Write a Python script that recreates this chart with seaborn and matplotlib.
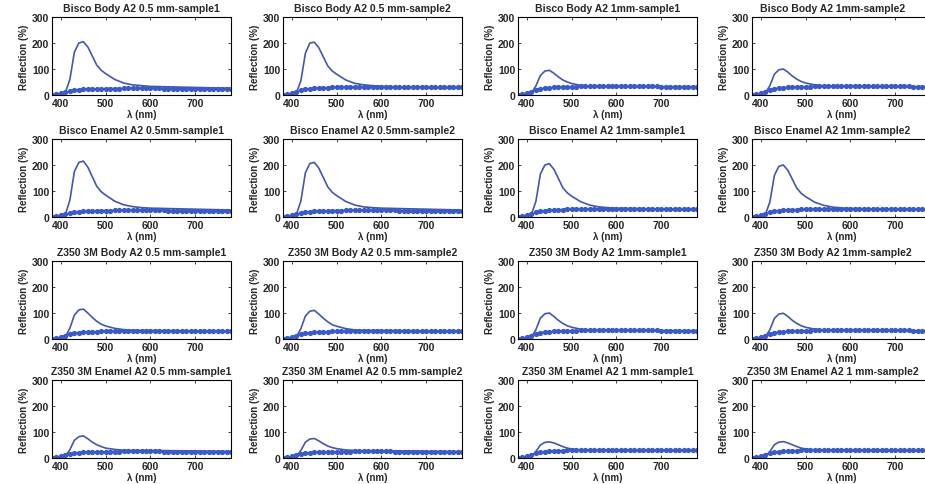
import matplotlib
matplotlib.use("Agg")
import matplotlib.pyplot as plt
import seaborn as sns

sns.set_style("ticks")
plt.rcParams['font.family'] = ['Liberation Sans', 'DejaVu Sans']
plt.rcParams['font.weight'] = 'bold'

# panel titles, row by row
titles = [
    "Bisco Body A2 0.5 mm-sample1", "Bisco Body A2 0.5 mm-sample2",
    "Bisco Body A2 1mm-sample1", "Bisco Body A2 1mm-sample2",
    "Bisco Enamel A2 0.5mm-sample1", "Bisco Enamel A2 0.5mm-sample2",
    "Bisco Enamel A2 1mm-sample1", "Bisco Enamel A2 1mm-sample2",
    "Z350 3M Body A2 0.5 mm-sample1", "Z350 3M Body A2 0.5 mm-sample2",
    "Z350 3M Body A2 1mm-sample1", "Z350 3M Body A2 1mm-sample2",
    "Z350 3M Enamel A2 0.5 mm-sample1", "Z350 3M Enamel A2 0.5 mm-sample2",
    "Z350 3M Enamel A2 1 mm-sample1", "Z350 3M Enamel A2 1 mm-sample2",
]

# wavelengths (nm) for the solid curve
wl_solid = [380, 400, 410, 420, 430, 440, 450, 460, 470, 480, 490, 500,
            520, 540, 560, 580, 600, 650, 700, 750, 780]

# wavelengths (nm) for the marker curve, 10 nm step
wl_mark = [380, 390, 400, 410, 420, 430, 440, 450, 460, 470, 480, 490, 500,
           510, 520, 530, 540, 550, 560, 570, 580, 590, 600, 610, 620, 630,
           640, 650, 660, 670, 680, 690, 700, 710, 720, 730, 740, 750, 760,
           770, 780]

# solid curves (reflection %)
solid = [
    [2, 4, 10, 60, 165, 200, 205, 185, 150, 115, 95, 82, 60, 46, 39, 36, 33, 31, 29, 27, 26],
    [2, 4, 9, 55, 160, 200, 203, 182, 147, 112, 92, 80, 58, 45, 39, 36, 33, 31, 29, 27, 26],
    [2, 4, 8, 35, 75, 92, 95, 84, 70, 58, 50, 44, 37, 34, 33, 33, 33, 32, 31, 30, 30],
    [2, 4, 8, 36, 80, 97, 100, 88, 73, 61, 52, 46, 39, 35, 34, 34, 34, 33, 32, 31, 30],
    [2, 4, 10, 65, 175, 210, 215, 192, 155, 118, 97, 84, 61, 47, 40, 36, 34, 32, 30, 28, 27],
    [2, 4, 10, 62, 170, 206, 210, 188, 152, 116, 95, 82, 60, 46, 39, 36, 34, 32, 30, 28, 27],
    [2, 4, 10, 60, 165, 200, 205, 184, 149, 113, 93, 80, 59, 46, 39, 36, 34, 32, 30, 28, 27],
    [2, 4, 10, 58, 160, 195, 200, 180, 146, 111, 91, 78, 57, 45, 38, 35, 33, 31, 29, 28, 27],
    [2, 4, 9, 42, 92, 112, 115, 100, 83, 68, 57, 50, 41, 36, 34, 33, 33, 32, 31, 30, 30],
    [2, 4, 9, 40, 88, 107, 110, 96, 80, 66, 55, 49, 40, 35, 34, 33, 33, 32, 31, 30, 30],
    [2, 4, 8, 36, 80, 97, 100, 87, 72, 60, 51, 45, 38, 35, 34, 34, 34, 33, 32, 31, 30],
    [2, 4, 8, 36, 79, 96, 99, 87, 72, 60, 51, 45, 38, 35, 34, 34, 34, 33, 32, 31, 30],
    [2, 4, 8, 32, 68, 82, 85, 74, 61, 51, 44, 38, 33, 30, 29, 29, 29, 28, 27, 26, 25],
    [2, 4, 7, 29, 61, 73, 75, 66, 55, 46, 40, 36, 31, 29, 28, 28, 28, 27, 26, 25, 25],
    [2, 4, 7, 25, 50, 60, 62, 58, 51, 44, 38, 35, 31, 30, 29, 29, 29, 28, 27, 27, 26],
    [2, 4, 7, 25, 51, 61, 63, 58, 51, 44, 38, 35, 31, 30, 29, 29, 29, 28, 27, 27, 26],
]

# marker curves (reflection %)
marked = [
    [1, 3, 6, 10, 15, 19, 21, 22, 23, 23, 24, 24, 24, 25, 25, 25, 26, 26, 26, 26, 26, 26, 26, 26, 26, 25, 25, 25, 25, 25, 25, 25, 24, 24, 24, 24, 24, 24, 24, 24, 24],
    [1, 3, 7, 12, 18, 22, 25, 26, 27, 28, 28, 29, 29, 30, 30, 30, 31, 31, 31, 31, 31, 31, 31, 31, 31, 30, 30, 30, 30, 30, 30, 30, 29, 29, 29, 29, 29, 29, 29, 29, 29],
    [1, 3, 7, 12, 19, 24, 27, 28, 29, 30, 31, 31, 32, 32, 33, 33, 33, 34, 34, 34, 34, 34, 34, 34, 34, 33, 33, 33, 33, 33, 33, 33, 32, 32, 32, 32, 32, 32, 32, 32, 32],
    [1, 3, 7, 12, 19, 24, 27, 28, 29, 30, 31, 31, 32, 32, 33, 33, 33, 34, 34, 34, 35, 35, 35, 35, 35, 35, 34, 34, 34, 34, 34, 33, 33, 33, 33, 33, 32, 32, 32, 32, 32],
    [1, 3, 6, 10, 15, 19, 21, 22, 23, 24, 24, 25, 25, 25, 26, 26, 26, 26, 26, 26, 26, 26, 26, 26, 26, 26, 25, 25, 25, 25, 25, 25, 25, 25, 24, 24, 24, 24, 24, 24, 24],
    [1, 3, 6, 10, 15, 19, 21, 22, 23, 24, 24, 25, 25, 25, 26, 26, 26, 26, 26, 26, 26, 26, 26, 26, 26, 26, 25, 25, 25, 25, 25, 25, 25, 25, 24, 24, 24, 24, 24, 24, 24],
    [1, 3, 7, 12, 18, 22, 25, 26, 27, 28, 28, 29, 29, 30, 30, 30, 31, 31, 31, 31, 31, 31, 31, 31, 31, 30, 30, 30, 30, 30, 30, 30, 29, 29, 29, 29, 29, 29, 29, 29, 29],
    [1, 3, 7, 12, 18, 22, 25, 26, 27, 28, 28, 29, 29, 30, 30, 30, 31, 31, 31, 31, 31, 31, 31, 31, 31, 30, 30, 30, 30, 30, 30, 30, 29, 29, 29, 29, 29, 29, 29, 29, 29],
    [1, 3, 7, 12, 18, 22, 25, 26, 27, 28, 28, 29, 29, 30, 30, 30, 31, 31, 31, 31, 31, 31, 31, 31, 31, 30, 30, 30, 30, 30, 30, 30, 29, 29, 29, 29, 29, 29, 29, 29, 29],
    [1, 3, 7, 12, 18, 22, 25, 26, 27, 28, 28, 29, 29, 30, 30, 30, 31, 31, 31, 31, 31, 31, 31, 31, 31, 30, 30, 30, 30, 30, 30, 30, 29, 29, 29, 29, 29, 29, 29, 29, 29],
    [1, 3, 7, 12, 19, 24, 27, 28, 29, 30, 31, 31, 32, 32, 33, 33, 33, 34, 34, 34, 34, 34, 34, 34, 34, 33, 33, 33, 33, 33, 33, 33, 32, 32, 32, 32, 32, 32, 32, 32, 32],
    [1, 3, 7, 12, 19, 24, 27, 28, 29, 30, 31, 31, 32, 32, 33, 33, 33, 34, 34, 34, 35, 35, 35, 35, 35, 35, 34, 34, 34, 34, 34, 33, 33, 33, 33, 33, 32, 32, 32, 32, 32],
    [1, 3, 6, 10, 15, 19, 21, 22, 23, 23, 24, 24, 24, 25, 25, 25, 26, 26, 26, 26, 26, 26, 26, 26, 26, 25, 25, 25, 25, 25, 25, 25, 24, 24, 24, 24, 24, 24, 24, 24, 24],
    [1, 3, 6, 10, 15, 19, 21, 22, 23, 23, 24, 24, 24, 25, 25, 25, 26, 26, 26, 26, 26, 26, 26, 26, 26, 25, 25, 25, 25, 25, 25, 25, 24, 24, 24, 24, 24, 24, 24, 24, 24],
    [1, 3, 7, 12, 18, 22, 25, 26, 27, 28, 28, 29, 29, 30, 30, 30, 31, 31, 31, 31, 31, 31, 31, 31, 31, 30, 30, 30, 30, 30, 30, 30, 29, 29, 29, 29, 29, 29, 29, 29, 29],
    [1, 3, 7, 12, 18, 22, 25, 26, 27, 28, 28, 29, 29, 30, 30, 30, 31, 31, 31, 31, 31, 31, 31, 31, 31, 30, 30, 30, 30, 30, 30, 30, 29, 29, 29, 29, 29, 29, 29, 29, 29],
]

x_ticks = [400, 500, 600, 700]
y_ticks = [0, 100, 200, 300]

W, H = 925, 485
fig = plt.figure(figsize=(W / 100, H / 100), dpi=100)

# axes boxes in pixels
col_left = [52, 283, 518, 752]
row_top = [18, 140, 262, 381]
ax_w, ax_h = 179, 78

for i in range(16):
    r, c = divmod(i, 4)
    ax = fig.add_axes([col_left[c] / W, (H - row_top[r] - ax_h) / H, ax_w / W, ax_h / H])
    sns.lineplot(x=wl_solid, y=solid[i], ax=ax, color='#4656a8', linewidth=1.2)
    sns.lineplot(x=wl_mark, y=marked[i], ax=ax, color='#3a5bc7', linewidth=1.2,
                 marker='o', markersize=3.8, markeredgewidth=0)
    ax.set_xlim(380, 780)
    ax.set_ylim(0, 300)
    ax.set_xticks(x_ticks)
    ax.set_yticks(y_ticks)
    ax.tick_params(direction='in', length=2.5, width=0.6, labelsize=7.5, pad=2,
                   top=True, right=True)
    for lab in ax.get_xticklabels() + ax.get_yticklabels():
        lab.set_fontweight('bold')
    for sp in ax.spines.values():
        sp.set_linewidth(0.8)
        sp.set_color('black')
    # last column title would run past the right edge, nudge it left
    tx = 0.45 if c == 3 else 0.5
    ax.set_title(titles[i], fontsize=7.5, fontweight='bold', pad=4, x=tx)
    ax.set_xlabel("λ (nm)", fontsize=7, fontweight='bold', labelpad=1)
    ax.set_ylabel("Reflection (%)", fontsize=7, fontweight='bold', labelpad=2)

fig.savefig("out.png", dpi=100)
